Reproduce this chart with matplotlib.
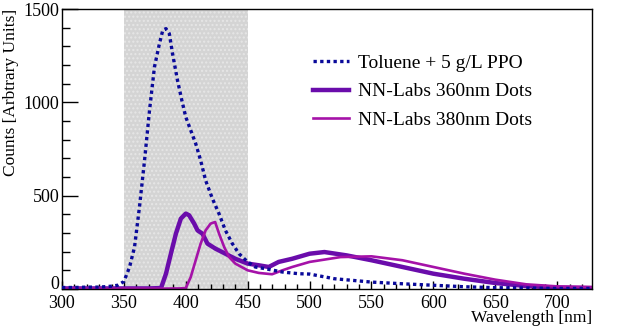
import numpy as np
import matplotlib
matplotlib.use("Agg")
import matplotlib.pyplot as plt
from matplotlib.ticker import MultipleLocator

# datos (nm, cuentas)
tol_nm = [300, 310, 320, 330, 340, 345, 350, 354.6, 358.6, 362.6, 366.7, 370.7, 374.7, 378.7,
          381.4, 384, 386.7, 389.3, 393.3, 396.8, 400, 404, 408, 412, 416, 421.5, 426.8,
          432, 437.6, 443, 450, 456, 464, 478, 491, 500, 520, 550, 575, 600, 625, 650,
          675, 700, 728]
tol_y = [8, 8, 10, 10, 15, 20, 40, 118, 225, 440, 690, 957, 1190, 1314,
         1386, 1395, 1368, 1261, 1118, 1011, 921, 850, 779, 689, 582, 484, 404,
         314, 243, 189, 145, 118, 109, 91, 82, 80, 55, 37, 28, 20, 12, 7,
         5, 3, 3]

nn360_nm = [300, 340, 370, 380, 384, 388, 392, 396, 400, 402.7, 406.8, 409.5, 413.5, 417.5,
            424, 432, 440, 450, 459, 467, 475, 486, 500, 512, 530, 550, 575, 600,
            625, 650, 675, 700, 728]
nn360_y = [3, 3, 3, 5, 82, 190, 296, 377, 404, 395, 350, 314, 296, 243,
           216, 189, 162, 136, 127, 118, 145, 162, 189, 198, 180, 154, 118, 82,
           55, 32, 16, 7, 4]

nn380_nm = [300, 340, 380, 395, 400, 404, 408, 412, 416, 420, 423.7, 426.9, 431, 435,
            440, 450, 459, 469.7, 478, 486, 500, 525, 550, 575, 600, 625, 650,
            675, 700, 728]
nn380_y = [2, 2, 2, 3, 5, 64, 154, 243, 314, 350, 359, 296, 225, 171,
           136, 100, 86, 79, 100, 118, 145, 171, 175, 154, 118, 82, 50,
           25, 14, 11]

etiquetas = ["Toluene + 5 g/L PPO", "NN-Labs 360nm Dots", "NN-Labs 380nm Dots"]
yticks = [0, 500, 1000, 1500]

plt.rcParams['font.family'] = ['Liberation Serif', 'DejaVu Serif']

fig = plt.figure(figsize=(6.23, 3.29), dpi=100)
ax = fig.add_axes([0.0995, 0.1216, 0.8505, 0.851])

# region sombreada 350-450 nm
ax.axvspan(350, 450, facecolor='#d4d4d4', edgecolor='#e6e6e6', hatch='....', linewidth=0, zorder=0)

ax.plot(tol_nm, tol_y, color='#0a0a9a', linestyle=(0, (1, 1)), linewidth=2.4, label=etiquetas[0], zorder=3)
ax.plot(nn360_nm, nn360_y, color='#6a0cab', linewidth=3.2, label=etiquetas[1], zorder=2)
ax.plot(nn380_nm, nn380_y, color='#a512a8', linewidth=1.9, label=etiquetas[2], zorder=2)

ax.set_xlim(300, 728)
ax.set_ylim(0, 1500)
ax.xaxis.set_major_locator(MultipleLocator(50))
ax.xaxis.set_minor_locator(MultipleLocator(10))
ax.set_yticks(yticks)
ax.yaxis.set_minor_locator(MultipleLocator(100))
ax.tick_params(which='both', direction='in', top=False, right=False, labelsize=13, width=1)
ax.tick_params(axis='x', which='major', length=6, pad=4)
ax.tick_params(axis='x', which='minor', length=3.3)
ax.tick_params(axis='y', which='major', length=11.5, pad=2)
ax.tick_params(axis='y', which='minor', length=5.8)
for s in ax.spines.values():
    s.set_linewidth(1)

# el "0" del eje y un poco mas arriba, para que no choque con el "300"
ax.yaxis.get_major_ticks()[0].label1.set_verticalalignment('baseline')

ax.set_xlabel('Wavelength [nm]', fontsize=12.5, loc='right', labelpad=-1)
ax.set_ylabel('Counts [Arbtrary Units]', fontsize=12.5, loc='top', labelpad=3)

ax.legend(loc='upper left', bbox_to_anchor=(0.474, 0.839), frameon=False, fontsize=14,
          handlelength=1.84, handletextpad=0.46, labelspacing=0.57, borderpad=0,
          borderaxespad=0)

plt.savefig('out.png', dpi=100)
plt.close()
